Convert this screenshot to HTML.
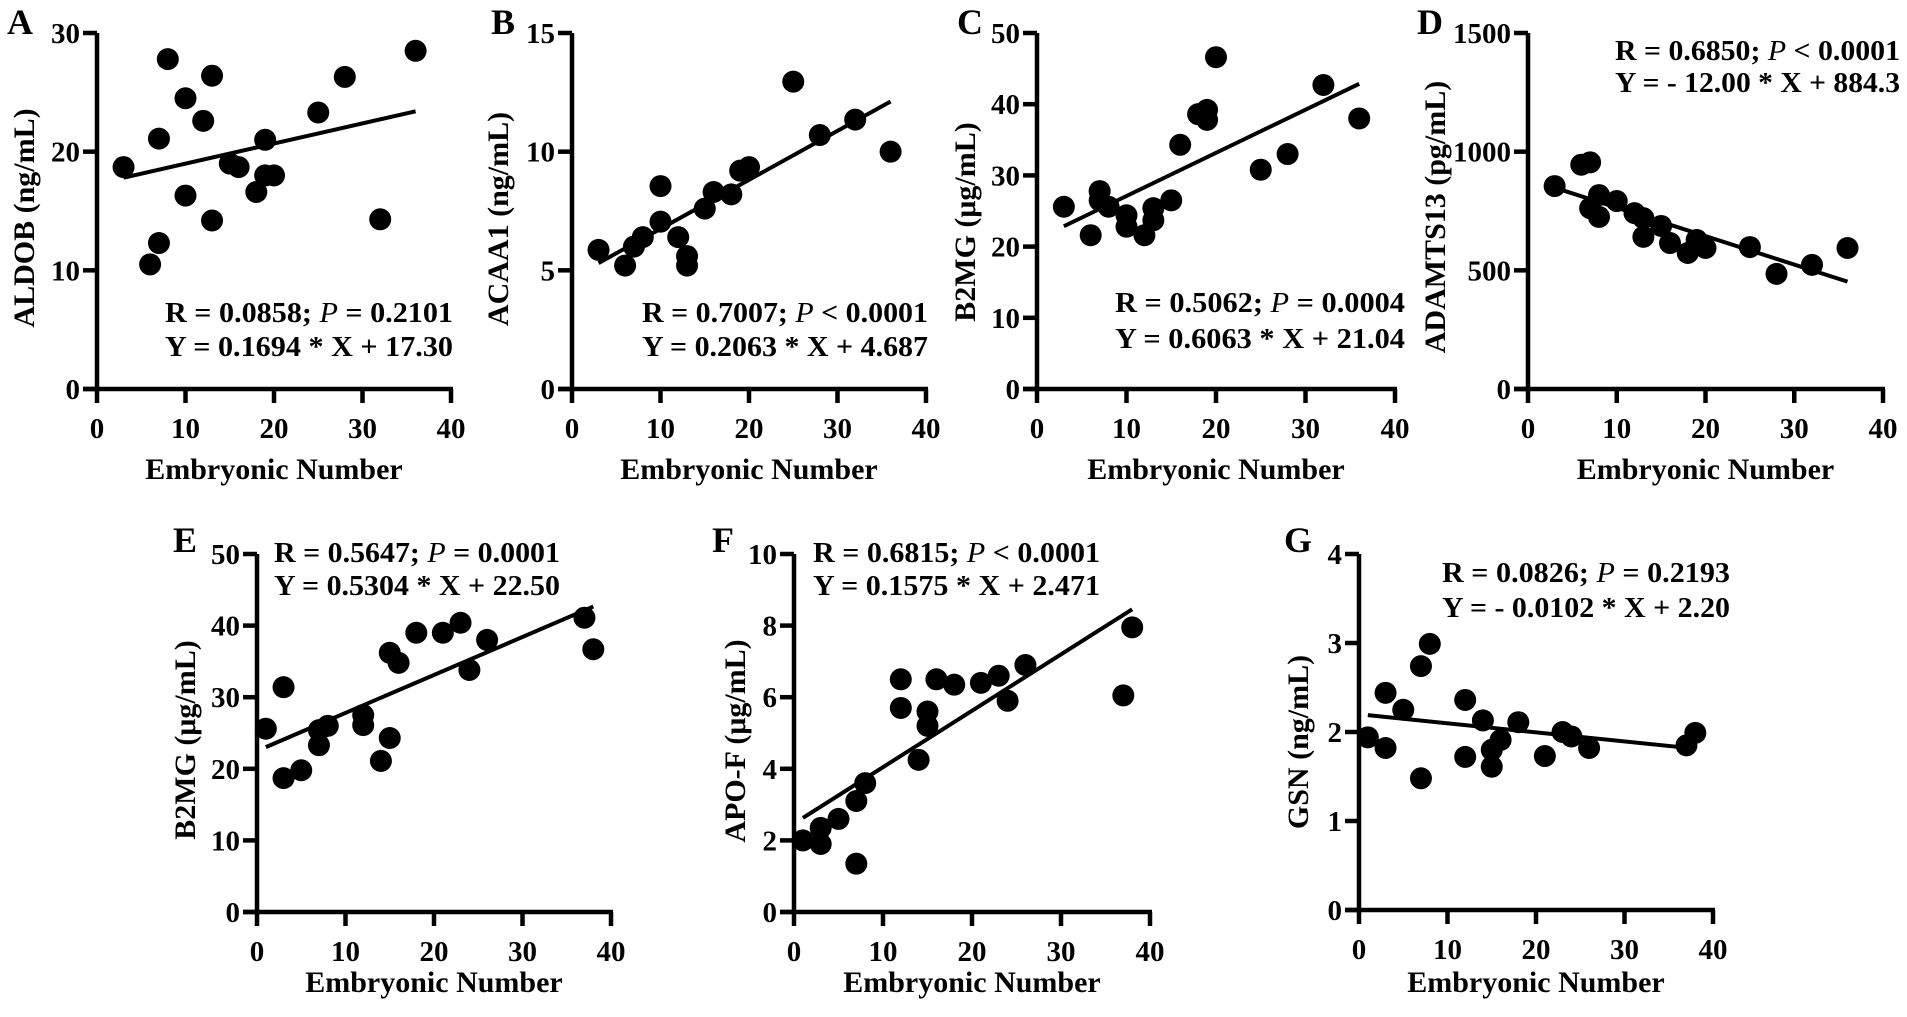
<!DOCTYPE html>
<html><head><meta charset="utf-8"><style>
html,body{margin:0;padding:0;background:#fff;}
svg{display:block;}
svg text{font-family:"Liberation Serif","Times New Roman","DejaVu Serif",serif;font-weight:bold;}
</style></head><body>
<svg id="fig" width="1907" height="1017" viewBox="0 0 1907 1017" xmlns="http://www.w3.org/2000/svg" font-family="Liberation Serif, Times New Roman, serif" font-weight="bold"></svg>
<script>
// ---- Data ----
const aX=[3,8,7,10,13,12,15,16,19,19,20,18,10,13,7,6,25,28,32,36];
const aY=[18.7,27.8,21.1,24.5,26.4,22.6,19.0,18.7,21.0,18.0,18.0,16.6,16.3,14.2,12.3,10.5,23.3,26.3,14.3,28.5];
const bX=[3,6,7,8,10,10,12,13,13,15,16,18,19,20,25,28,32,36];
const bY=[5.86,5.2,6.0,6.4,8.55,7.05,6.4,5.6,5.2,7.6,8.3,8.2,9.2,9.35,12.95,10.7,11.35,10.0];
const cX=[3,6,7,7,8,10,10,12,13,13,15,16,18,19,19,20,25,28,32,36];
const cY=[25.6,21.6,27.8,26.5,25.6,24.4,22.8,21.6,25.4,23.7,26.5,34.3,38.6,39.2,37.8,46.6,30.8,33.0,42.7,38.0];
const dX=[3,6,7,8,7,8,10,12,13,13,15,16,18,19,20,25,28,32,36];
const dY=[855,945,955,817,762,725,792,741,720,641,687,615,573,628,594,598,485,523,594];
const eX=[1,3,3,5,7,7,8,12,12,14,15,15,16,18,21,23,24,26,37,38];
const eY=[25.6,31.4,18.7,19.8,23.3,25.4,26.0,27.5,26.1,21.1,24.3,36.2,34.8,39.0,39.0,40.4,33.8,38.0,41.1,36.7];
const fX=[1,3,3,5,7,7,8,12,12,14,15,15,16,18,21,23,24,26,37,38];
const fY=[2.0,2.35,1.9,2.6,1.35,3.1,3.6,6.5,5.7,4.25,5.6,5.2,6.5,6.35,6.4,6.6,5.9,6.9,6.05,7.95];
const gX=[1,3,3,5,7,7,8,12,12,14,15,15,16,18,21,23,24,26,37,38];
const gY=[1.94,2.44,1.82,2.25,2.74,1.48,2.99,2.36,1.72,2.13,1.80,1.61,1.91,2.11,1.73,2.0,1.95,1.82,1.85,1.99];
const xTicks=[0,10,20,30,40];
const aTicks=[0,10,20,30], bTicks=[0,5,10,15], cTicks=[0,10,20,30,40,50], dTicks=[0,500,1000,1500];
const eTicks=[0,10,20,30,40,50], fTicks=[0,2,4,6,8,10], gTicks=[0,1,2,3,4];
const slopes=[0.1694,0.2063,0.6063,-12.00,0.5304,0.1575,-0.0102];
const intercepts=[17.30,4.687,21.04,884.3,22.50,2.471,2.20];

const NS="http://www.w3.org/2000/svg";
const FF='"Liberation Serif","Times New Roman","DejaVu Serif",serif';
const svg=document.getElementById('fig');
function mk(tag,attrs,parent,text){const e=document.createElementNS(NS,tag);for(const k in attrs)e.setAttribute(k,attrs[k]);if(tag==='text'){e.setAttribute('font-family',FF);if(!attrs['font-weight'])e.setAttribute('font-weight','bold');}if(text!==undefined)e.textContent=text;(parent||svg).appendChild(e);return e;}

function panel(cfg){
  const g=mk('g',{});
  
  
  const sx=v=>cfg.x0+v*(cfg.x1-cfg.x0)/40;
  const ymax=cfg.yticks[cfg.yticks.length-1];
  const sy=v=>cfg.y0-v*(cfg.y0-cfg.y1)/ymax;
  const ya=mk('line',{x1:cfg.x0,y1:cfg.y1,x2:cfg.x0,y2:cfg.y0+2,stroke:'#000','stroke-width':4.5},g);
  
  const xa=mk('line',{x1:cfg.x0-14,y1:cfg.y0,x2:cfg.x1+2,y2:cfg.y0,stroke:'#000','stroke-width':4.5},g);
  
  cfg.yticks.forEach(t=>{
    mk('line',{x1:cfg.x0-14,y1:sy(t),x2:cfg.x0,y2:sy(t),stroke:'#000','stroke-width':4.5},g);
    const tl=mk('text',{x:cfg.x0-17,y:sy(t)+10,'text-anchor':'end','font-size':29},g,String(t));
    
  });
  xTicks.forEach(t=>{
    mk('line',{x1:sx(t),y1:cfg.y0,x2:sx(t),y2:cfg.y0+14,stroke:'#000','stroke-width':4.5},g);
    const tl=mk('text',{x:sx(t),y:cfg.y0+49,'text-anchor':'middle','font-size':29},g,String(t));
    
  });
  const xt=mk('text',{x:(cfg.x0+cfg.x1)/2,y:cfg.y0+cfg.titleDy,'text-anchor':'middle','font-size':30},g,'Embryonic Number');
  
  const yt=mk('text',{x:0,y:0,'text-anchor':'middle','font-size':30,transform:`translate(${cfg.ytx},${cfg.yty}) rotate(-90)`},g,cfg.ylabel);
  
  const pl=mk('text',{x:cfg.lx,y:cfg.ly,'text-anchor':'middle','font-size':36},g,cfg.letter);
  
  cfg.xs.forEach((xv,i)=>{
    const c=mk('circle',{cx:sx(xv),cy:sy(cfg.ys[i]),r:11,fill:'#000'},g);
    
  });
  const xmin=Math.min(...cfg.xs),xmaxv=Math.max(...cfg.xs);
  const m=slopes[cfg.idx],b=intercepts[cfg.idx];
  const rl=mk('line',{x1:sx(xmin),y1:sy(m*xmin+b),x2:sx(xmaxv),y2:sy(m*xmaxv+b),stroke:'#000','stroke-width':4},g);
  
  const t1=mk('text',{x:cfg.ax,y:cfg.ay1+10,'font-size':29,textLength:cfg.aw,lengthAdjust:'spacingAndGlyphs'},g);
  
  mk('tspan',{},t1,cfg.r1a);
  mk('tspan',{'font-style':'italic','font-weight':'normal'},t1,'P');
  mk('tspan',{},t1,cfg.r1b);
  const t2=mk('text',{x:cfg.ax,y:cfg.ay2+10,'font-size':29,textLength:cfg.aw,lengthAdjust:'spacingAndGlyphs'},g,cfg.r2);
  
}

panel({idx:0,letter:'A',xs:aX,ys:aY,yticks:aTicks,x0:97,x1:451,y0:389,y1:33,titleDy:90,ylabel:'ALDOB (ng/mL)',ytx:34,yty:218,lx:20,ly:34,
  ax:165,aw:288,ay1:312,ay2:346,r1a:'R = 0.0858; ',r1b:' = 0.2101',r2:'Y = 0.1694 * X + 17.30'});
panel({idx:1,letter:'B',xs:bX,ys:bY,yticks:bTicks,x0:572,x1:926,y0:389,y1:33,titleDy:90,ylabel:'ACAA1 (ng/mL)',ytx:508,yty:219,lx:503,ly:34,
  ax:642,aw:286,ay1:312,ay2:346,r1a:'R = 0.7007; ',r1b:' < 0.0001',r2:'Y = 0.2063 * X + 4.687'});
panel({idx:2,letter:'C',xs:cX,ys:cY,yticks:cTicks,x0:1037,x1:1395,y0:389,y1:33,titleDy:90,ylabel:'B2MG (μg/mL)',ytx:975,yty:222,lx:970,ly:34,
  ax:1115,aw:290,ay1:302,ay2:338,r1a:'R = 0.5062; ',r1b:' = 0.0004',r2:'Y = 0.6063 * X + 21.04'});
panel({idx:3,letter:'D',xs:dX,ys:dY,yticks:dTicks,x0:1528,x1:1883,y0:389,y1:33,titleDy:90,ylabel:'ADAMTS13 (pg/mL)',ytx:1445,yty:217,lx:1430,ly:34,
  ax:1615,aw:285,ay1:50,ay2:82,r1a:'R = 0.6850; ',r1b:' < 0.0001',r2:'Y = - 12.00 * X + 884.3'});
panel({idx:4,letter:'E',xs:eX,ys:eY,yticks:eTicks,x0:257,x1:611,y0:912,y1:554,titleDy:80,ylabel:'B2MG (μg/mL)',ytx:195,yty:740,lx:185,ly:552,
  ax:274,aw:286,ay1:552,ay2:585,r1a:'R = 0.5647; ',r1b:' = 0.0001',r2:'Y = 0.5304 * X + 22.50'});
panel({idx:5,letter:'F',xs:fX,ys:fY,yticks:fTicks,x0:794,x1:1150,y0:912,y1:554,titleDy:80,ylabel:'APO-F (μg/mL)',ytx:745,yty:741,lx:723,ly:552,
  ax:813,aw:287,ay1:552,ay2:585,r1a:'R = 0.6815; ',r1b:' < 0.0001',r2:'Y = 0.1575 * X + 2.471'});
panel({idx:6,letter:'G',xs:gX,ys:gY,yticks:gTicks,x0:1359,x1:1713,y0:910,y1:554,titleDy:82,ylabel:'GSN (ng/mL)',ytx:1308,yty:742,lx:1298,ly:552,
  ax:1442,aw:288,ay1:572,ay2:607,r1a:'R = 0.0826; ',r1b:' = 0.2193',r2:'Y = - 0.0102 * X + 2.20'});
</script>
</body></html>
